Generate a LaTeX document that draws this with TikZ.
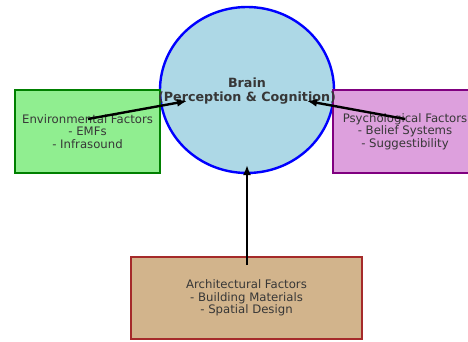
\documentclass[tikz,border=0pt]{standalone}
\usepackage{fontspec}
\setmainfont{DejaVu Sans}
\usepackage{tikz}
\usetikzlibrary{shapes.geometric,arrows.meta}

\definecolor{brainfill}{RGB}{173,216,230}
\definecolor{envfill}{RGB}{144,238,144}
\definecolor{envedge}{RGB}{0,128,0}
\definecolor{psyfill}{RGB}{221,160,221}
\definecolor{psyedge}{RGB}{128,0,128}
\definecolor{archfill}{RGB}{210,180,140}
\definecolor{archedge}{RGB}{165,42,42}
\definecolor{labelgray}{RGB}{55,55,55}

\tikzset{
    factorbox/.style={rectangle, line width=2.4pt, inner sep=0pt,
        align=center, text=labelgray, font=\fontsize{11.7}{12.6}\selectfont},
    influence/.style={-{Latex[length=10pt,width=8pt]}, line width=2.4pt, black}
}

\begin{document}
\begin{tikzpicture}[x=1pt,y=1pt]
    \clip (0,0) rectangle (468,341);

    % Brain in the middle
    \node[ellipse, draw=blue, fill=brainfill, line width=2.4pt, inner sep=0pt,
          minimum width=174pt, minimum height=166pt]
          (brain) at (247,251) {};

    % The three groups of factors
    \node[factorbox, draw=envedge, fill=envfill, minimum width=145pt, minimum height=83pt]
          (env) at (87.5,209.5) {Environmental Factors\\- EMFs\\- Infrasound};
    \node[factorbox, draw=psyedge, fill=psyfill, minimum width=144pt, minimum height=83pt]
          (psych) at (405,209.5) {Psychological Factors\\- Belief Systems\\- Suggestibility};
    \node[factorbox, draw=archedge, fill=archfill, minimum width=231pt, minimum height=82pt]
          (arch) at (246.5,43) {Architectural Factors\\- Building Materials\\- Spatial Design};

    % Brain label on top of the borders
    \node[align=center, text=labelgray, font=\bfseries\fontsize{12.7}{14}\selectfont]
          (brainlabel) at (247,250) {Brain\\(Perception \& Cognition)};

    % Arrow ends
    \coordinate (envtail) at (88,222);
    \coordinate (envhead) at (187,240);
    \coordinate (psychtail) at (405,222);
    \coordinate (psychhead) at (307,240);
    \coordinate (archtail) at (247,76);
    \coordinate (archhead) at (247,176);

    % Draw the influences
    \draw[influence] (envtail) -- (envhead);
    \draw[influence] (psychtail) -- (psychhead);
    \draw[influence] (archtail) -- (archhead);
\end{tikzpicture}
\end{document}
